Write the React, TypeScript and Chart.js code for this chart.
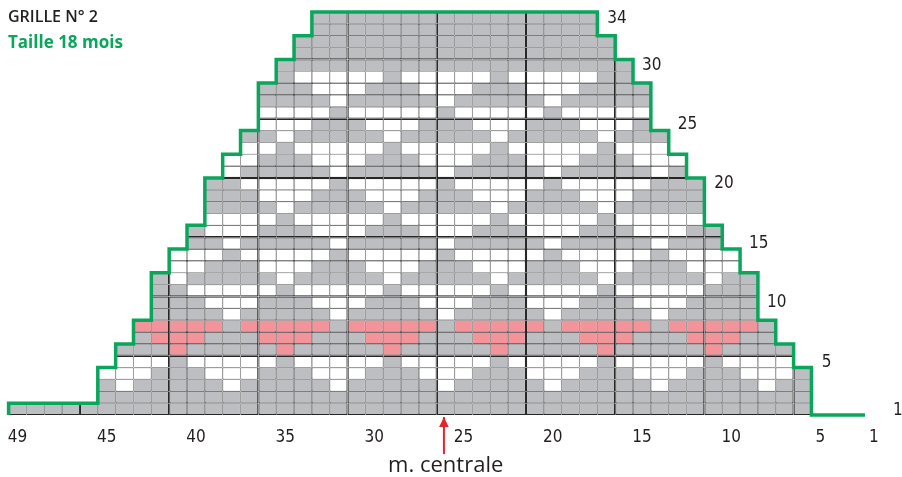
import React, { useEffect, useRef } from "react";
import { Chart, registerables } from "chart.js";

Chart.register(...registerables);

// ---- Data ----
// Bottom stitch numbers and the grid column (0 = leftmost) under which each sits
const COLUMN_TICKS = [0, 5, 10, 15, 20, 25, 30, 35, 40, 45, 48];
const COLUMN_LABELS = ["49", "45", "40", "35", "30", "25", "20", "15", "10", "5", "1"];

// Chart cells, top row (34) first. g = grey, w = white, p = pink, . = no stitch
const GRID_ROWS = [
  "...... ...... .....g gggggg gggggg ggg... ...... ...", // 34
  "...... ...... .....g gggggg gggggg ggg... ...... ...", // 33
  "...... ...... ....gg gggggg gggggg gggg.. ...... ...", // 32
  "...... ...... ....gg gggggg gggggg gggg.. ...... ...", // 31
  "...... ...... ...ggg gggggg gggggg ggggg. ...... ...", // 30
  "...... ...... ...gww wwwgww wwwgww wwwgg. ...... ...", // 29
  "...... ...... ..gggw wwgggw wwgggw wwgggg ...... ...", // 28
  "...... ...... ..gggg wggggg wggggg wggggg ...... ...", // 27
  "...... ...... ..wwww gwwwww gwwwww gwwwww ...... ...", // 26
  "...... ...... ..wwwg ggwwwg ggwwwg ggwwwg ...... ...", // 25
  "...... ...... .ggwgg gggwgg gggwgg gggwgg g..... ...", // 24
  "...... ...... .wwgww wwwgww wwwgww wwwgww w..... ...", // 23
  "...... ...... wwgggw wwgggw wwgggw wwgggw ww.... ...", // 22
  "...... ...... wggggg wggggg wggggg wggggg wg.... ...", // 21
  "...... .....g gwwwww gwwwww gwwwww gwwwww ggg... ...", // 20
  "...... .....g ggwwwg ggwwwg ggwwwg ggwwwg ggg... ...", // 19
  "...... .....g gggwgg gggwgg gggwgg gggwgg ggg... ...", // 18
  "...... .....w wwwgww wwwgww wwwgww wwwgww www... ...", // 17
  "...... ....gw wwgggw wwgggw wwgggw wwgggw wwgg.. ...", // 16
  "...... ....gg wggggg wggggg wggggg wggggg wggg.. ...", // 15
  "...... ...www gwwwww gwwwww gwwwww gwwwww gwwww. ...", // 14
  "...... ...wwg ggwwwg ggwwwg ggwwwg ggwwwg ggwww. ...", // 13
  "...... ..gwgg gggwgg gggwgg gggwgg gggwgg gggwgg ...", // 12
  "...... ..ggww wwwgww wwwgww wwwgww wwwgww wwwggg ...", // 11
  "...... ..gggw wwgggw wwgggw wwgggw wwgggw wwgggg ...", // 10
  "...... ..gggg wggggg wggggg wggggg wggggg wggggg ...", // 9
  "...... .ppppp gppppp gppppp gppppp gppppp gppppp g..", // 8
  "...... .gpppg ggpppg ggpppg ggpppg ggpppg ggpppg g..", // 7
  "...... gggpgg gggpgg gggpgg gggpgg gggpgg gggpgg gg.", // 6
  "...... wwwgww wwwgww wwwgww wwwgww wwwgww wwwgww ww.", // 5
  ".....w wwgggw wwgggw wwgggw wwgggw wwgggw wwgggw wwg", // 4
  ".....g wggggg wggggg wggggg wggggg wggggg wggggg wgg", // 3
  ".....g gggggg gggggg gggggg gggggg gggggg gggggg ggg", // 2
  "gggggg gggggg gggggg gggggg gggggg gggggg gggggg ggg", // 1
];

// Row numbers on the right side of the outline (x in grid columns, y in rows)
const ROW_LABELS = ["34", "30", "25", "20", "15", "10", "5", "1"];
const ROW_LABEL_X = [33.6, 35.55, 37.55, 39.6, 41.55, 42.55, 45.35, 49.35];
const ROW_LABEL_Y = [33.45, 29.5, 24.5, 19.5, 14.45, 9.5, 4.4, 0.4];

// Green outline runs along the base line up to this column edge
const BASELINE_END = 48;

// Centre-stitch arrow (column position, shaft bottom and tip in row units)
const ARROW_X = 23.9;
const ARROW_Y = [-3.3, -0.17];

// ---- Styles ----
const COLORS: Record<string, string> = { g: "#bdbec1", w: "#ffffff", p: "#f3949a" };
const GRID_LINE = "#262626";
const THIN = 0.6;
const THICK = 1.2;
const GREEN = "#0aa65c";
const RED = "#e4232b";
const TEXT = "#231f20";
const HEAD_LEN = 10;
const HEAD_HALF = 4.8;
const NARROW = "'Liberation Sans Narrow', 'DejaVu Sans Condensed', 'Roboto Condensed', sans-serif";
const SANS = "'Open Sans', 'Noto Sans', sans-serif";

const cleanRows = GRID_ROWS.map((s) => s.replace(/ /g, ""));
const rowsBottomUp = [...cleanRows].reverse(); // index 0 = row 1

function buildOutline() {
  const ext = rowsBottomUp.map((t) => {
    const L = t.search(/[^.]/);
    let R = t.length - 1;
    while (R > 0 && t[R] === ".") R--;
    return [L, R];
  });
  const raw: { x: number; y: number }[] = [];
  raw.push({ x: ext[0][0] - 0.5, y: 0 });
  ext.forEach(([L], k) => {
    raw.push({ x: L - 0.5, y: k });
    raw.push({ x: L - 0.5, y: k + 1 });
  });
  for (let k = ext.length - 1; k >= 0; k--) {
    const R = ext[k][1];
    raw.push({ x: R + 0.5, y: k + 1 });
    raw.push({ x: R + 0.5, y: k });
  }
  raw.push({ x: BASELINE_END - 0.5, y: 0 });
  const pts: { x: number; y: number }[] = [];
  for (const p of raw) {
    const last = pts[pts.length - 1];
    if (last && last.x === p.x && last.y === p.y) continue;
    if (pts.length >= 2) {
      const a = pts[pts.length - 2];
      const b = last;
      if ((a.x === b.x && b.x === p.x) || (a.y === b.y && b.y === p.y)) {
        pts[pts.length - 1] = p;
        continue;
      }
    }
    pts.push(p);
  }
  return pts;
}

const annotationsPlugin = {
  id: "rowLabelsAndArrowHead",
  afterDatasetsDraw(chart: any) {
    const { ctx, scales } = chart;
    ctx.save();
    // row numbers
    ctx.font = `17px ${NARROW}`;
    ctx.fillStyle = TEXT;
    ctx.textAlign = "center";
    ctx.textBaseline = "middle";
    ROW_LABELS.forEach((t, k) => {
      ctx.fillText(t, scales.x.getPixelForValue(ROW_LABEL_X[k]), scales.y.getPixelForValue(ROW_LABEL_Y[k]));
    });
    // arrow head at the tip of the centre arrow
    const tx = scales.x.getPixelForValue(ARROW_X);
    const ty = scales.y.getPixelForValue(ARROW_Y[1]);
    ctx.fillStyle = RED;
    ctx.beginPath();
    ctx.moveTo(tx, ty);
    ctx.lineTo(tx + HEAD_HALF, ty + HEAD_LEN);
    ctx.lineTo(tx - HEAD_HALF, ty + HEAD_LEN);
    ctx.closePath();
    ctx.fill();
    ctx.restore();
  },
};

export default function App() {
  const ref = useRef<HTMLCanvasElement | null>(null);

  useEffect(() => {
    if (!ref.current) return;
    const cellSets = rowsBottomUp.map((t, k) => {
      const r = k + 1;
      const cols: number[] = [];
      for (let i = 0; i < t.length; i++) if (t[i] !== ".") cols.push(i);
      return {
        type: "bar" as const,
        label: "row " + r,
        data: cols.map((i) => ({ x: i, y: [r - 1, r] })),
        backgroundColor: cols.map((i) => COLORS[t[i]]),
        borderColor: GRID_LINE,
        borderWidth: cols.map((i) => ({
          left: i % 5 === 4 ? THICK : THIN,
          right: i % 5 === 3 ? THICK : THIN,
          top: r % 5 === 0 ? THICK : THIN,
          bottom: r % 5 === 1 ? THICK : THIN,
        })),
        borderSkipped: false,
        grouped: false,
        categoryPercentage: 1,
        barPercentage: 1,
        inflateAmount: 0,
        order: 2,
      };
    });

    const outline = {
      type: "line" as const,
      label: "outline",
      data: buildOutline(),
      borderColor: GREEN,
      borderWidth: 3.5,
      borderJoinStyle: "miter",
      pointRadius: 0,
      fill: false,
      tension: 0,
      clip: false,
      order: 0,
    };

    const arrow = {
      type: "line" as const,
      label: "m. centrale",
      data: ARROW_Y.map((y) => ({ x: ARROW_X, y })),
      borderColor: RED,
      borderWidth: 2,
      pointRadius: 0,
      fill: false,
      clip: false,
      order: 0,
    };

    const chart = new Chart(ref.current, {
      type: "bar",
      data: { datasets: [...cellSets, outline, arrow] as any },
      options: {
        responsive: false,
        animation: false,
        events: [],
        layout: { padding: { left: 8.6, right: 19.2, top: 12, bottom: 0 } },
        plugins: { legend: { display: false }, tooltip: { enabled: false } },
        scales: {
          x: {
            type: "linear",
            min: -0.5,
            max: 48.5,
            offset: false,
            grid: { display: false, drawTicks: false, tickLength: 0 },
            border: { display: false },
            afterBuildTicks: (axis: any) => {
              axis.ticks = COLUMN_TICKS.map((v) => ({ value: v }));
            },
            ticks: {
              autoSkip: false,
              maxRotation: 0,
              minRotation: 0,
              padding: 5.5,
              color: TEXT,
              font: { family: NARROW, size: 17, lineHeight: 2 },
              callback: (v: any) => {
                const k = COLUMN_TICKS.indexOf(Number(v));
                return k >= 0 ? COLUMN_LABELS[k] : "";
              },
            },
            title: {
              display: true,
              text: "m. centrale",
              color: TEXT,
              font: { family: SANS, size: 22, lineHeight: 0.5 },
              padding: { top: 0.5, bottom: 5.5 },
            },
          },
          y: { type: "linear", min: 0, max: 34, display: false },
        },
      } as any,
      plugins: [annotationsPlugin],
    });
    return () => chart.destroy();
  }, []);

  return (
    <div>
      <canvas ref={ref} width={902} height={477} style={{ position: "fixed", left: 0, top: 0, display: "block" }} />
      <div
        style={{
          position: "fixed",
          left: 8,
          top: 8,
          font: `600 16px ${SANS}`,
          lineHeight: "17px",
          color: TEXT,
          whiteSpace: "nowrap",
        }}
      >
        GRILLE N° 2
      </div>
      <div
        style={{
          position: "fixed",
          left: 8,
          top: 33,
          font: `700 17px ${SANS}`,
          lineHeight: "17px",
          color: GREEN,
          whiteSpace: "nowrap",
        }}
      >
        Taille 18 mois
      </div>
    </div>
  );
}
